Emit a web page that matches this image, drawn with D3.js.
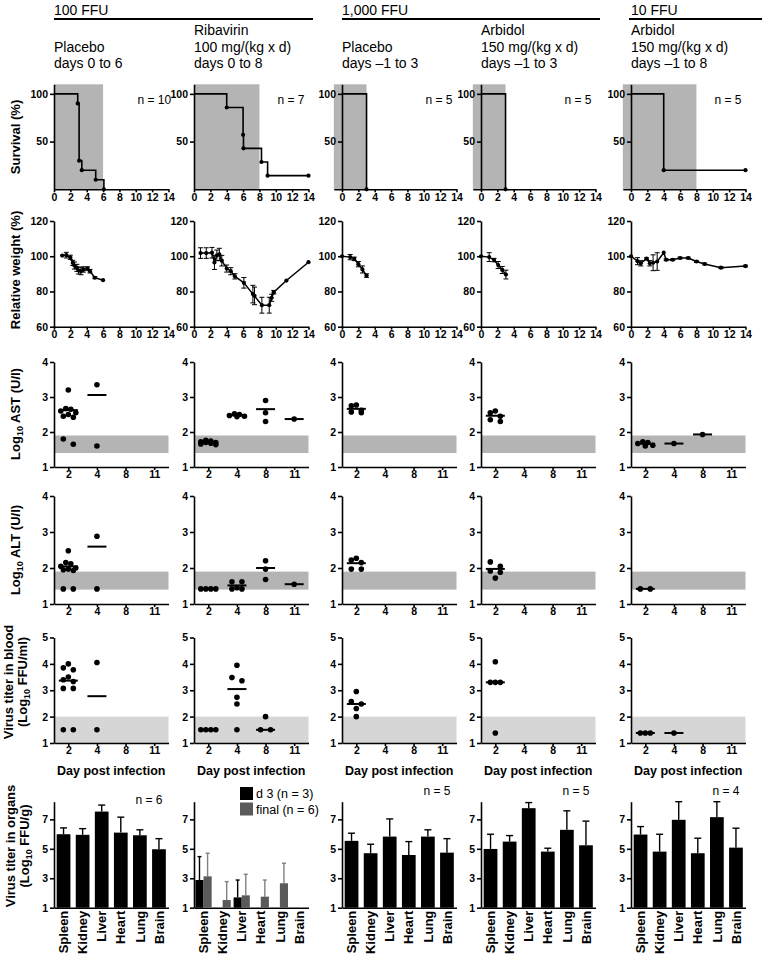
<!DOCTYPE html>
<html>
<head>
<meta charset="utf-8">
<script src="https://cdn.jsdelivr.net/npm/d3@7"></script>
<style>
  body { margin: 0; background: #fff; }
</style>
</head>
<body>
<div id="chart"></div>
<script>
// ---------- data ----------
const doseLabels = ["100 FFU", "1,000 FFU", "10 FFU"];
const doseFirstCol = [0, 2, 4];
const doseLastCol = [1, 3, 4];
const treatmentText = [
  ["Placebo", "days 0 to 6"],
  ["Ribavirin", "100 mg/(kg x d)", "days 0 to 8"],
  ["Placebo", "days \u20131 to 3"],
  ["Arbidol", "150 mg/(kg x d)", "days \u20131 to 3"],
  ["Arbidol", "150 mg/(kg x d)", "days \u20131 to 8"]
];
const treatmentDays = [[0, 6], [0, 8], [-1, 3], [-1, 3], [-1, 8]];
const dayTicks = [0, 2, 4, 6, 8, 10, 12, 14];

// survival: [day, % surviving after the drop]
const survivalN = ["n = 10", "n = 7", "n = 5", "n = 5", "n = 5"];
const survivalDrops = [
  [[2.9, 90], [3.07, 30], [3.4, 20], [5.1, 10], [6.1, 0]],
  [[4, 85.7], [6, 57.1], [6.05, 42.9], [8.25, 28.6], [9, 14.3]],
  [[3, 0]],
  [[3, 0]],
  [[4, 20]]
];
const survivalCensor = [null, 14, null, null, 14];

// relative weight
const weightDays = [
  [1, 1.5, 2, 2.3, 2.5, 2.8, 3, 3.3, 3.6, 4.1, 4.4, 5, 6],
  [0.8, 1.5, 2.2, 2.5, 2.8, 3.1, 3.4, 4, 4.5, 5, 6.1, 7.2, 7.4, 8.3, 9.2, 9.5, 9.75, 11.3, 14],
  [0, 1, 1.5, 2, 2.5, 3],
  [0, 1, 1.6, 2.1, 2.6, 3.05],
  [0, 0.8, 1.2, 1.9, 2.3, 2.7, 3.2, 4, 4.3, 5.1, 6, 7, 8, 9, 11, 14]
];
const weightMean = [
  [100.4, 100.6, 99.4, 96.2, 94.7, 93.4, 91.9, 91.5, 92.5, 93, 91.5, 87.8, 86.4],
  [101.8, 101.8, 102, 96.5, 100.5, 101, 97.5, 93, 91.5, 88.6, 84.9, 78.5, 77.5, 72.2, 72.2, 76.4, 79.6, 86.2, 96.6],
  [100, 99.5, 98.5, 95.5, 92.5, 89],
  [100, 99.5, 97.8, 95, 92.2, 89.6],
  [100, 97.2, 96, 98.6, 96, 96.3, 97, 102, 98, 98, 99, 99, 97, 95.6, 93.5, 94.4]
];
const weightSD = [
  [0, 1.6, 1.2, 1.5, 2, 2, 2, 2, 1.5, 1, 1, 0.5, 0],
  [3, 3, 3, 4, 3, 3.5, 3, 2, 2, 1.5, 3, 5, 5, 4.5, 4.5, 2, 1, 0, 0],
  [0, 1.5, 1, 1.5, 2, 1],
  [0, 2.5, 1, 2, 2, 2.5],
  [0, 2, 1.5, 0.5, 1.5, 4.5, 5, 0, 0.5, 0.5, 0.5, 0.5, 0.5, 0.5, 0.5, 0.5]
];

// lab values (log10), one list per sampling day
const labDays = ["2", "4", "8", "11"];
const astLog = [
  [[3.2, 2.67, 2.65, 2.6, 2.55, 2.5, 2.45, 2.42, 1.8, 1.65], [3.35, 1.6], [], []],
  [[1.76, 1.74, 1.72, 1.7, 1.7, 1.68, 1.66, 1.64], [2.52, 2.5, 2.47, 2.45, 2.44], [2.9, 2.55, 2.3], [2.37]],
  [[2.77, 2.75, 2.62, 2.57, 2.55], [], [], []],
  [[2.6, 2.55, 2.45, 2.35, 2.3], [], [], []],
  [[1.72, 1.7, 1.67, 1.62, 1.6], [1.67], [1.93], []]
];
const altLog = [
  [[2.48, 2.15, 2.12, 2.05, 2.0, 1.97, 1.95, 1.93, 1.42, 1.42], [2.88, 1.42], [], []],
  [[1.42, 1.42, 1.42, 1.42], [1.62, 1.62, 1.45, 1.42, 1.42], [2.2, 1.97, 1.68], [1.55]],
  [[2.27, 2.22, 2.15, 1.97, 1.97], [], [], []],
  [[2.17, 2.05, 1.92, 1.88, 1.72], [], [], []],
  [[1.42, 1.42], [], [], []]
];
const bloodLog = [
  [[4.0, 3.85, 3.78, 3.5, 3.4, 3.33, 3.07, 3.07, 1.5, 1.5], [4.05, 1.5], [], []],
  [[1.5, 1.5, 1.5, 1.5], [3.95, 3.48, 3.36, 2.73, 2.48, 1.5], [2.0, 1.5, 1.5], []],
  [[2.95, 2.57, 2.48, 2.31, 2.0], [], [], []],
  [[4.08, 3.3, 3.3, 3.3, 1.38], [], [], []],
  [[1.38, 1.38, 1.38], [1.38], [], []]
];
const labNormalRange = [1.4, 1.9];
const bloodLimitRange = [1, 2];

// organ titers
const organNames = ["Spleen", "Kidney", "Liver", "Heart", "Lung", "Brain"];
const organMean = [
  [5.99, 5.95, 7.53, 6.1, 5.92, 4.97],
  null,
  [5.54, 4.7, 5.83, 4.58, 5.83, 4.74],
  [4.99, 5.49, 7.76, 4.81, 6.29, 5.24],
  [5.97, 4.81, 6.97, 4.7, 7.15, 5.08]
];
const organSD = [
  [0.43, 0.42, 0.44, 1.05, 0.37, 0.72],
  null,
  [0.52, 0.61, 1.2, 0.91, 0.46, 0.95],
  [1.0, 0.41, 0.38, 0.23, 1.29, 1.64],
  [0.54, 1.18, 1.24, 1.02, 1.15, 1.32]
];
const ribavirinD3Mean = [2.88, null, 1.7, null, null, null];
const ribavirinD3SD = [1.59, null, 1.18, null, null, null];
const ribavirinFinalMean = [3.13, 1.52, 1.84, 1.75, 2.66, null];
const ribavirinFinalSD = [1.57, 1.25, 1.43, 1.13, 1.36, null];
const organN = ["n = 6", null, "n = 5", "n = 5", "n = 4"];
const organLegend = ["d 3 (n = 3)", "final (n = 6)"];

const rowTitles = [
  [["Survival (%)"]],
  [["Relative weight (%)"]],
  [["Log", "10", " AST (U/l)"]],
  [["Log", "10", " ALT (U/l)"]],
  [["Virus titer in blood"], ["(Log", "10", " FFU/ml)"]],
  [["Virus titer in organs"], ["(Log", "10", " FFU/g)"]]
];

// ---------- layout ----------
const FONT = 'Arial, "Liberation Sans", Helvetica, sans-serif';
const colX = [54, 194, 342, 481, 631];
const plotW = 114.5;
const dayPx = plotW / 14;
const rows = {
  survival: [189.3, 84.3],
  weight: [326.7, 221],
  ast: [467, 362],
  alt: [604, 496],
  blood: [743, 637.5],
  organ: [907.7, 801.7]
};

const svg = d3.select('#chart').append('svg')
  .attr('width', 762).attr('height', 958)
  .style('font-family', FONT);

function styleAxis(g) {
  g.attr('font-family', null).attr('font-size', null);
  g.selectAll('path, line').attr('stroke', '#000').attr('stroke-width', 1.6);
  g.selectAll('text').attr('fill', '#000')
    .style('font-size', '10.5px').style('font-weight', 'bold');
}

function drawYAxis(g, x, scale, ticks) {
  g.append('g').attr('transform', `translate(${x},0)`)
    .call(d3.axisLeft(scale).tickValues(ticks).tickSize(4).tickSizeOuter(0)
      .tickPadding(2).tickFormat(d3.format('d')))
    .call(styleAxis);
}

function drawXAxis(g, y, scale, ticks) {
  const ax = d3.axisBottom(scale).tickSize(3).tickSizeOuter(0).tickPadding(1);
  if (ticks) ax.tickValues(ticks);
  return g.append('g').attr('transform', `translate(0,${y})`)
    .call(ax).call(styleAxis);
}

// ---------- headers ----------
doseLabels.forEach((lab, i) => {
  const x0 = colX[doseFirstCol[i]];
  const x1 = i < 2 ? colX[doseLastCol[i]] + plotW + 4.5 : 762;
  svg.append('text').attr('x', x0).attr('y', 15).text(lab)
    .style('font-size', '14px');
  svg.append('line').attr('x1', x0 + (i === 2 ? -2 : 0)).attr('x2', x1)
    .attr('y1', 19).attr('y2', 19).attr('stroke', '#000').attr('stroke-width', 2.2);
});
treatmentText.forEach((lines, c) => {
  lines.forEach((s, j) => {
    svg.append('text').attr('x', colX[c])
      .attr('y', 68 - (lines.length - 1 - j) * 16.5)
      .text(s).style('font-size', '14px');
  });
});

// ---------- survival ----------
treatmentDays.forEach((period, c) => {
  const xMin = period[0] < 0 ? -1 : 0;
  const x = d3.scaleLinear().domain([xMin, 14]).range([colX[c] + xMin * dayPx, colX[c] + plotW]);
  const y = d3.scaleLinear().domain([0, 110]).range(rows.survival);
  const g = svg.append('g');
  g.append('rect').attr('x', x(period[0])).attr('y', y(110))
    .attr('width', x(period[1]) - x(period[0])).attr('height', y(0) - y(110))
    .attr('fill', '#b4b4b4');
  drawXAxis(g, y(0), x, dayTicks);
  drawYAxis(g, x(0), y, [50, 100]);

  let prev = 100;
  const pts = [[0, 100]];
  survivalDrops[c].forEach(([t, s]) => { pts.push([t, prev], [t, s]); prev = s; });
  if (survivalCensor[c] != null) pts.push([survivalCensor[c], prev]);
  g.append('path').attr('d', d3.line().x(d => x(d[0])).y(d => y(d[1]))(pts))
    .attr('fill', 'none').attr('stroke', '#000').attr('stroke-width', 1.6);
  const marks = survivalDrops[c].slice();
  if (survivalCensor[c] != null) marks.push([survivalCensor[c], prev]);
  g.selectAll('circle.m').data(marks).enter().append('circle')
    .attr('cx', d => x(d[0])).attr('cy', d => y(d[1])).attr('r', 2.1).attr('fill', '#000');
  g.append('text').attr('x', colX[c] + plotW - 31).attr('y', 104)
    .text(survivalN[c]).style('font-size', '12px');
});

// ---------- relative weight ----------
weightDays.forEach((days, c) => {
  const x = d3.scaleLinear().domain([0, 14]).range([colX[c], colX[c] + plotW]);
  const y = d3.scaleLinear().domain([60, 120]).range(rows.weight);
  const g = svg.append('g');
  drawXAxis(g, y(60), x, dayTicks);
  drawYAxis(g, x(0), y, [60, 80, 100, 120]);
  const pts = days.map((d, i) => ({ d, m: weightMean[c][i], s: weightSD[c][i] }));
  const eb = g.selectAll('g.eb').data(pts.filter(p => p.s > 0)).enter().append('g')
    .attr('stroke', '#000').attr('stroke-width', 1);
  eb.append('line').attr('x1', p => x(p.d)).attr('x2', p => x(p.d))
    .attr('y1', p => y(p.m - p.s)).attr('y2', p => y(p.m + p.s));
  [-1, 1].forEach(k => {
    eb.append('line').attr('x1', p => x(p.d) - 2.5).attr('x2', p => x(p.d) + 2.5)
      .attr('y1', p => y(p.m + k * p.s)).attr('y2', p => y(p.m + k * p.s));
  });
  g.append('path').attr('d', d3.line().x(p => x(p.d)).y(p => y(p.m))(pts))
    .attr('fill', 'none').attr('stroke', '#000').attr('stroke-width', 1.5);
  g.selectAll('circle.w').data(pts).enter().append('circle')
    .attr('cx', p => x(p.d)).attr('cy', p => y(p.m)).attr('r', 2.1).attr('fill', '#000');
});

// ---------- scatter rows ----------
function swarm(values, y, cx) {
  const pts = values.map(v => ({ v, y: y(v) })).sort((a, b) => a.y - b.y);
  const bins = [];
  pts.forEach(p => {
    const last = bins[bins.length - 1];
    if (last && p.y - last[0].y < 6 && last.length < 4) last.push(p);
    else bins.push([p]);
  });
  bins.forEach(b => {
    const k = b.length;
    const step = k === 2 ? 10 : 5;
    const offs = d3.range(k).map(i => (i - (k - 1) / 2) * step)
      .sort((a, b2) => Math.abs(a) - Math.abs(b2) || a - b2);
    b.forEach((p, i) => { p.x = cx + offs[i]; });
  });
  return pts;
}
const logMean = vals => Math.log10(d3.mean(vals, v => Math.pow(10, v)));

function drawLab(rowKey, data, maxY, yTicks, band, bandFill, stat) {
  data.forEach((groups, c) => {
    const x = d3.scalePoint().domain(labDays).range([colX[c], colX[c] + plotW]).padding(0.5);
    const y = d3.scaleLinear().domain([1, maxY]).range(rows[rowKey]);
    const g = svg.append('g');
    g.append('rect').attr('x', colX[c]).attr('width', plotW)
      .attr('y', y(band[1])).attr('height', y(band[0]) - y(band[1])).attr('fill', bandFill);
    drawXAxis(g, y(1), x);
    drawYAxis(g, colX[c], y, yTicks);
    groups.forEach((vals, i) => {
      if (!vals.length) return;
      const cx = x(labDays[i]);
      g.selectAll(null).data(swarm(vals, y, cx)).enter().append('circle')
        .attr('cx', p => p.x).attr('cy', p => p.y).attr('r', 2.8).attr('fill', '#000');
      const m = y(stat(vals));
      g.append('line').attr('x1', cx - 9.5).attr('x2', cx + 9.5).attr('y1', m).attr('y2', m)
        .attr('stroke', '#000').attr('stroke-width', 2);
    });
  });
}
drawLab('ast', astLog, 4, [1, 2, 3, 4], labNormalRange, '#b4b4b4', logMean);
drawLab('alt', altLog, 4, [1, 2, 3, 4], labNormalRange, '#b4b4b4', logMean);
drawLab('blood', bloodLog, 5, [1, 2, 3, 4, 5], bloodLimitRange, '#d6d6d6', d3.median);

colX.forEach(x0 => {
  svg.append('text').attr('x', x0 + plotW / 2).attr('y', 775).attr('text-anchor', 'middle')
    .text('Day post infection').style('font-size', '12.5px').style('font-weight', 'bold');
});

// ---------- organ titers ----------
colX.forEach((x0, c) => {
  const grouped = organMean[c] == null;
  const x = d3.scaleBand().domain(organNames).range([x0, x0 + plotW])
    .paddingInner(grouped ? 0.15 : 0.28).paddingOuter(grouped ? 0.075 : 0.14);
  const y = d3.scaleLinear().domain([1, 8.2]).range(rows.organ);
  const g = svg.append('g');
  const ax = drawXAxis(g, y(1), x);
  ax.selectAll('.tick line').remove();
  ax.selectAll('text').attr('transform', 'rotate(-90)').attr('text-anchor', 'end')
    .attr('x', -3).attr('y', 0).attr('dy', '0.36em').style('font-size', '13px');
  drawYAxis(g, x0, y, [1, 3, 5, 7]);

  const series = grouped
    ? [{ m: ribavirinD3Mean, s: ribavirinD3SD, fill: '#000', err: '#000' },
       { m: ribavirinFinalMean, s: ribavirinFinalSD, fill: '#5a5a5a', err: '#808080' }]
    : [{ m: organMean[c], s: organSD[c], fill: '#000', err: '#000' }];
  const sub = d3.scaleBand().domain(d3.range(series.length)).range([0, x.bandwidth()]);
  series.forEach((ser, k) => {
    const bars = organNames.map((o, i) => ({ o, m: ser.m[i], s: ser.s[i] })).filter(b => b.m != null);
    const bx = b => x(b.o) + sub(k);
    const w = sub.bandwidth();
    const top = b => y(Math.min(b.m + b.s, 8.2));
    g.selectAll(null).data(bars).enter().append('line')
      .attr('x1', b => bx(b) + w / 2).attr('x2', b => bx(b) + w / 2)
      .attr('y1', b => y(b.m)).attr('y2', top)
      .attr('stroke', ser.err).attr('stroke-width', 1.4);
    g.selectAll(null).data(bars).enter().append('line')
      .attr('x1', b => bx(b) + w / 2 - (grouped ? 2 : 3.5)).attr('x2', b => bx(b) + w / 2 + (grouped ? 2 : 3.5))
      .attr('y1', top).attr('y2', top)
      .attr('stroke', ser.err).attr('stroke-width', 1.4);
    g.selectAll(null).data(bars).enter().append('rect')
      .attr('x', bx).attr('width', w)
      .attr('y', b => y(b.m)).attr('height', b => y(1) - y(b.m))
      .attr('fill', ser.fill);
  });
  if (organN[c]) {
    g.append('text').attr('x', x0 + plotW - 6).attr('y', c === 0 ? 804 : 795).attr('text-anchor', 'end')
      .text(organN[c]).style('font-size', '12px');
  }
  if (grouped) {
    organLegend.forEach((lab, k) => {
      g.append('rect').attr('x', x0 + 46).attr('y', 787 + k * 15.5).attr('width', 13).attr('height', 13)
        .attr('fill', series[k].fill);
      g.append('text').attr('x', x0 + 62).attr('y', 798 + k * 15.5).text(lab)
        .style('font-size', '12.5px');
    });
  }
});

// ---------- row titles ----------
const titleCenters = [137, 270, 414, 550, 682, 846];
const titleBaselines = [[20], [20], [20], [20], [13, 27], [14.5, 28.5]];
rowTitles.forEach((lines, r) => {
  lines.forEach((segs, j) => {
    const t = svg.append('text')
      .attr('transform', `translate(${titleBaselines[r][j]},${titleCenters[r]}) rotate(-90)`)
      .attr('text-anchor', 'middle').style('font-weight', 'bold').style('font-size', '13px');
    segs.forEach((s, i) => {
      const isSub = i % 2 === 1;
      t.append('tspan').text(s)
        .style('font-size', isSub ? '9px' : '13px')
        .attr('dy', isSub ? 3 : (i > 0 ? -3 : 0));
    });
  });
});
</script>
</body>
</html>
